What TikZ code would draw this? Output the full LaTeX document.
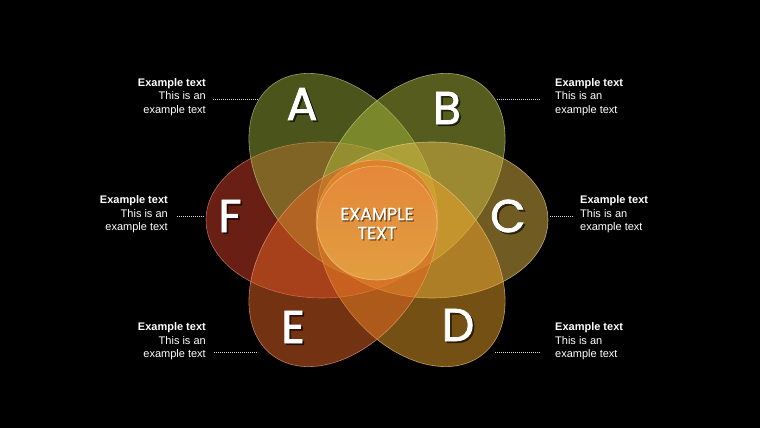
\documentclass[tikz,border=0pt]{standalone}
\usepackage{fontspec}
\setmainfont{Liberation Sans}
\newfontfamily\popf{Poppins}[FakeBold=1.6]
\newfontfamily\popc{Poppins}[FakeBold=0.8]
\begin{document}
\begin{tikzpicture}[x=1pt,y=1pt,
  petal/.style={fill=#1, fill opacity=0.5, draw=#1!60!white, draw opacity=0.7, line width=0.6pt},
  bigletter/.style={font=\popf\fontsize{46}{46}\selectfont, text=white, inner sep=0pt},
  lshadow/.style={font=\popf\fontsize{46}{46}\selectfont, text=black, text opacity=0.55, inner sep=0pt},
  lblL/.style={font=\fontsize{11}{13.5}\selectfont, text=white, inner sep=0pt, align=right, anchor=north east},
  lblR/.style={font=\fontsize{11}{13.5}\selectfont, text=white, inner sep=0pt, align=left, anchor=north west},
  dotline/.style={draw=white!85!black, line width=0.9pt, dash pattern=on 0.9pt off 1.1pt},
  ctext/.style={font=\popc\fontsize{17.5}{19}\selectfont, align=center, inner sep=0pt}
]
\definecolor{cA}{RGB}{150,170,55}
\definecolor{cB}{RGB}{170,185,60}
\definecolor{cC}{RGB}{225,185,70}
\definecolor{cD}{RGB}{235,160,40}
\definecolor{cE}{RGB}{230,100,35}
\definecolor{cF}{RGB}{210,62,40}
\definecolor{cirTop}{RGB}{245,145,85}
\definecolor{cirBot}{RGB}{235,205,105}

\fill[black] (0,0) rectangle (760,428);
\useasboundingbox (0,0) rectangle (760,428);

% ellipse centres
\coordinate (oF) at (322,208);
\coordinate (oC) at (432,208);
\coordinate (oA) at (343.14,251.34);
\coordinate (oB) at (410.86,251.34);
\coordinate (oE) at (343.14,164.66);
\coordinate (oD) at (410.86,164.66);
\coordinate (oM) at (377,205);

% petals
\path[petal=cF] (oF) ellipse [x radius=116pt, y radius=78pt];
\path[petal=cA, rotate around={128:(oA)}] (oA) ellipse [x radius=116pt, y radius=78pt];
\path[petal=cB, rotate around={52:(oB)}] (oB) ellipse [x radius=116pt, y radius=78pt];
\path[petal=cC] (oC) ellipse [x radius=116pt, y radius=78pt];
\path[petal=cD, rotate around={128:(oD)}] (oD) ellipse [x radius=116pt, y radius=78pt];
\path[petal=cE, rotate around={52:(oE)}] (oE) ellipse [x radius=116pt, y radius=78pt];

% centre circle
\shade[top color=cirTop, bottom color=cirBot, opacity=0.38] (oM) ellipse [x radius=60pt, y radius=57pt];
\draw[draw=cirBot!60!white, draw opacity=0.5, line width=0.6pt] (oM) ellipse [x radius=60pt, y radius=57pt];

\node[ctext, text=black, text opacity=0.45] (mts) at (378.2,203.3) {EXAMPLE\\TEXT};
\node[ctext, text=white] (mt) at (377,204.5) {EXAMPLE\\TEXT};

% letters with shadows
\node[lshadow] (sA) at (303.8,322.2) {A};
\node[bigletter] (lA) at (302,324) {A};
\node[lshadow] (sB) at (448.8,318.2) {B};
\node[bigletter] (lB) at (447,320) {B};
\node[lshadow] (sF) at (231.8,210.2) {F};
\node[bigletter] (lF) at (230,212) {F};
\node[lshadow] (sC) at (509.8,210.2) {C};
\node[bigletter] (lC) at (508,212) {C};
\node[lshadow] (sE) at (294.8,99.2) {E};
\node[bigletter] (lE) at (293,101) {E};
\node[lshadow] (sD) at (459.8,101.2) {D};
\node[bigletter] (lD) at (458,103) {D};

% labels
\node[lblL] (tA) at (206,350) {\textbf{Example text}\\This is an\\example text};
\node[lblR] (tB) at (555,350) {\textbf{Example text}\\This is an\\example text};
\node[lblL] (tF) at (168,232.5) {\textbf{Example text}\\This is an\\example text};
\node[lblR] (tC) at (580,232.5) {\textbf{Example text}\\This is an\\example text};
\node[lblL] (tE) at (206,105.5) {\textbf{Example text}\\This is an\\example text};
\node[lblR] (tD) at (555,105.5) {\textbf{Example text}\\This is an\\example text};

% dotted leaders
\coordinate (dA1) at (213,329); \coordinate (dA2) at (258,329);
\coordinate (dB1) at (497,329); \coordinate (dB2) at (540,329);
\coordinate (dF1) at (177,212); \coordinate (dF2) at (204,212);
\coordinate (dC1) at (550,212); \coordinate (dC2) at (574,212);
\coordinate (dE1) at (214,76);  \coordinate (dE2) at (258,76);
\coordinate (dD1) at (495,76);  \coordinate (dD2) at (540,76);
\draw[dotline] (dA1) -- (dA2);
\draw[dotline] (dB1) -- (dB2);
\draw[dotline] (dF1) -- (dF2);
\draw[dotline] (dC1) -- (dC2);
\draw[dotline] (dE1) -- (dE2);
\draw[dotline] (dD1) -- (dD2);
\end{tikzpicture}
\end{document}
